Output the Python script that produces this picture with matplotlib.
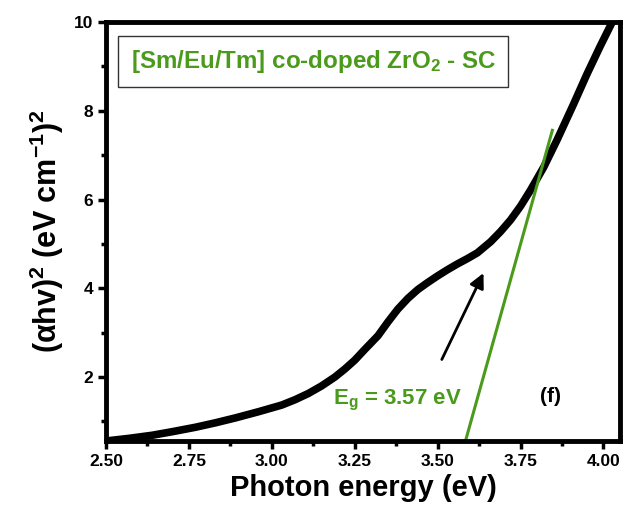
import matplotlib.pyplot as plt
import numpy as np

# Tauc plot data
energy = [2.50, 2.57, 2.64, 2.70, 2.77, 2.83, 2.89, 2.96, 3.03, 3.07, 3.11, 3.15, 3.19, 3.22,
          3.25, 3.28, 3.32, 3.35, 3.38, 3.41, 3.44, 3.47, 3.50, 3.53, 3.56, 3.59, 3.62,
          3.66, 3.69, 3.72, 3.75, 3.78, 3.82, 3.86, 3.91, 3.95, 3.99, 4.03]
tauc = [0.56, 0.62, 0.69, 0.77, 0.87, 0.97, 1.08, 1.22, 1.37, 1.49, 1.63, 1.80, 2.00, 2.18,
        2.38, 2.62, 2.93, 3.24, 3.53, 3.77, 3.97, 4.13, 4.28, 4.42, 4.55, 4.67, 4.80,
        5.05, 5.28, 5.54, 5.85, 6.21, 6.73, 7.34, 8.15, 8.82, 9.45, 10.05]
fit_x = [3.584, 3.846]
fit_y = [0.56, 7.56]

green = "#4a9a1c"

plt.rcParams["font.family"] = "Liberation Sans"
plt.rcParams["font.weight"] = "bold"
plt.rcParams["mathtext.fontset"] = "custom"
plt.rcParams["mathtext.rm"] = "Liberation Sans:bold"
plt.rcParams["mathtext.bf"] = "Liberation Sans:bold"
plt.rcParams["mathtext.it"] = "Liberation Serif:italic"

fig = plt.figure(figsize=(6.41, 5.08), dpi=100)
ax = fig.add_axes([106 / 641, 67 / 508, 514 / 641, 419 / 508])

ax.plot(energy, tauc, color="black", lw=5.5, solid_capstyle="round", solid_joinstyle="round")
ax.plot(fit_x, fit_y, color=green, lw=2.2)

ax.annotate("", xy=(3.642, 4.40), xytext=(3.509, 2.34),
            arrowprops=dict(arrowstyle="-|>", color="black", lw=2, mutation_scale=22))

ax.text(3.184, 1.48, "E$_\\mathbf{g}$ = 3.57 eV", color=green, fontsize=16, fontweight="bold",
        ha="left", va="center")
ax.text(3.81, 1.57, "(f)", color="black", fontsize=15, fontweight="bold", ha="left", va="center")

ax.text(0.403, 0.905, "[Sm/Eu/Tm] co-doped ZrO$_\\mathbf{2}$ - SC", transform=ax.transAxes,
        color=green, fontsize=17.4, fontweight="bold", ha="center", va="center",
        bbox=dict(boxstyle="square,pad=0.5", fc="white", ec="#333333", lw=1))

ax.set_xlim(2.5, 4.05)
ax.set_ylim(0.56, 10)
ax.set_xticks(np.arange(2.5, 4.01, 0.25))
ax.set_xticklabels(["%.2f" % v for v in np.arange(2.5, 4.01, 0.25)])
ax.set_xticks(np.arange(2.625, 4.0, 0.25), minor=True)
ax.set_yticks([2, 4, 6, 8, 10])
ax.set_yticks([1, 3, 5, 7, 9], minor=True)

for s in ax.spines.values():
    s.set_linewidth(3.5)
ax.tick_params(which="major", direction="out", length=6, width=2.5, labelsize=12.5, pad=3)
ax.tick_params(which="minor", direction="out", length=3.5, width=2.5)
for lab in ax.get_xticklabels() + ax.get_yticklabels():
    lab.set_fontweight("bold")

ax.set_xlabel("Photon energy (eV)", fontsize=21, fontweight="bold", labelpad=4)
ax.set_ylabel("$\\mathbf{(\\alpha hv)^2\\ (eV\\ cm^{-1})^2}$", fontsize=22, labelpad=6)

fig.savefig("out.png", dpi=100)
